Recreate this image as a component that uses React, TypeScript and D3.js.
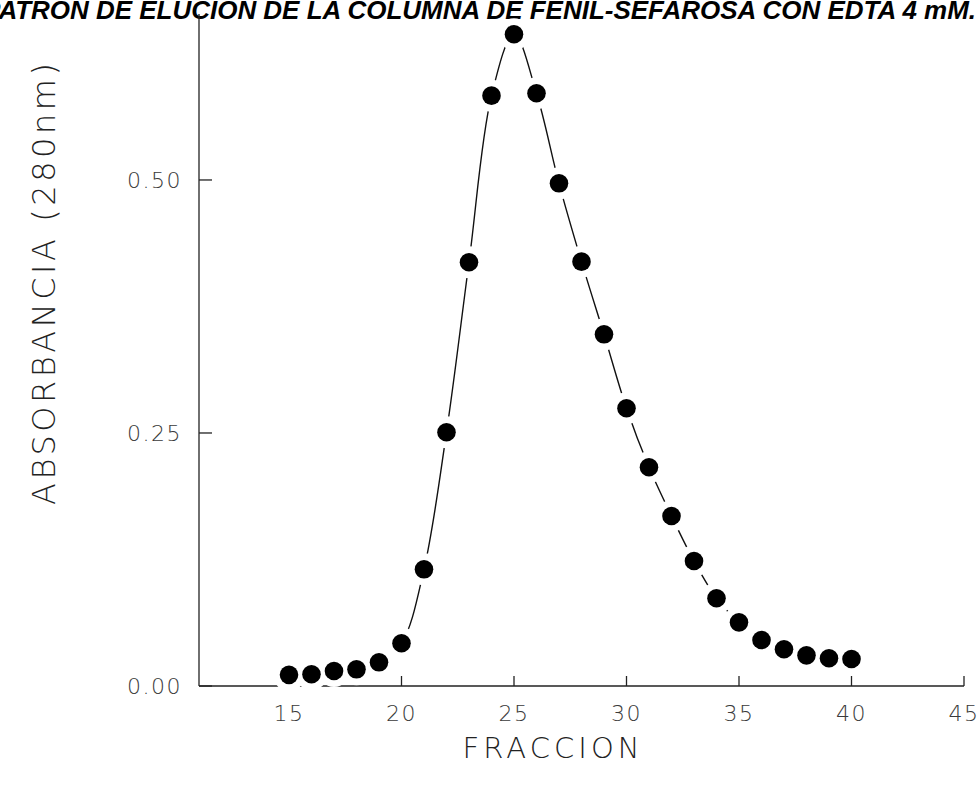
import React from "react";
import * as d3 from "d3";

const fractions = [15,16,17,18,19,20,21,22,23,24,25,26,27,28,29,30,31,32,33,34,35,36,37,38,39,40];
const absorbance = [0.011,0.0116,0.0148,0.0165,0.0234,0.0422,0.1153,0.2507,0.4187,0.5833,0.644,0.5857,0.4967,0.4193,0.3475,0.2744,0.2161,0.168,0.1235,0.0867,0.0629,0.0455,0.0363,0.0303,0.0274,0.0267];
const xTicks = [15,20,25,30,35,40,45];
const yTicks = [0, 0.25, 0.5];
const yTickLabels = ["0.00", "0.25", "0.50"];
const title = "PATRON DE ELUCION DE LA COLUMNA DE FENIL-SEFAROSA CON EDTA 4 mM.";
const xTitle = "FRACCION";
const yTitle = "ABSORBANCIA  (280nm)";

const W = 979, H = 794;

export default function App() {
  const x = d3.scaleLinear().domain([11, 45]).range([199, 964]);
  const y = d3.scaleLinear().domain([0, 0.664]).range([686, 14]);
  const data = fractions.map((f, i) => ({ f, v: absorbance[i] }));
  const line = d3.line<{ f: number; v: number }>()
    .x(d => x(d.f)).y(d => y(d.v))
    .curve(d3.curveCatmullRom.alpha(0.5));
  const tickFont = "'DejaVu Sans', 'Liberation Sans', sans-serif";
  return (
    <svg width={W} height={H} style={{ position: "absolute", left: 0, top: 0, background: "#fff" }}>
      <rect x={0} y={0} width={W} height={H} fill="#fff" />
      <text x={-17} y={19} textLength={993} lengthAdjust="spacingAndGlyphs"
        fontFamily="'Liberation Sans', Arial, sans-serif" fontWeight="bold" fontStyle="italic"
        fontSize={26} fill="#000">{title}</text>
      {/* axes */}
      <line x1={x(11)} x2={x(11)} y1={y(0)} y2={14} stroke="#222" strokeWidth={1.3} />
      <line x1={x(11)} x2={x(45)} y1={y(0)} y2={y(0)} stroke="#222" strokeWidth={1.3} />
      {yTicks.map((t, i) => (
        <g key={"yt" + i}>
          <line x1={x(11)} x2={x(11) + 13} y1={y(t)} y2={y(t)} stroke="#222" strokeWidth={1.3} />
          <text x={182} y={y(t)} dy="0.36em" textAnchor="end" fontFamily={tickFont}
            fontWeight={300} fontSize={22} letterSpacing={1.5} fill="#3a3a3a">{yTickLabels[i]}</text>
        </g>
      ))}
      {xTicks.map((t, i) => (
        <g key={"xt" + i}>
          <line x1={x(t)} x2={x(t)} y1={y(0)} y2={y(0) - 10} stroke="#222" strokeWidth={1.3} />
          <text x={x(t)} y={721} textAnchor="middle" fontFamily={tickFont}
            fontWeight={300} fontSize={22} letterSpacing={1.5} fill="#3a3a3a">{t}</text>
        </g>
      ))}
      <text x={551} y={758} textAnchor="middle" fontFamily={tickFont} fontWeight={300}
        fontSize={29} textLength={177} fill="#222">{xTitle}</text>
      <text transform={`translate(55, 284) rotate(-90)`} textAnchor="middle" fontFamily={tickFont}
        fontWeight={300} fontSize={32} textLength={442} fill="#222">{yTitle}</text>
      {/* curve */}
      <path d={line(data) || ""} fill="none" stroke="#111" strokeWidth={1.4} />
      {data.map((d, i) => (
        <circle key={"h" + i} cx={x(d.f)} cy={y(d.v)} r={16} fill="#fff" />
      ))}
      {data.map((d, i) => (
        <circle key={"c" + i} cx={x(d.f)} cy={y(d.v)} r={9.3} fill="#000" />
      ))}
    </svg>
  );
}
